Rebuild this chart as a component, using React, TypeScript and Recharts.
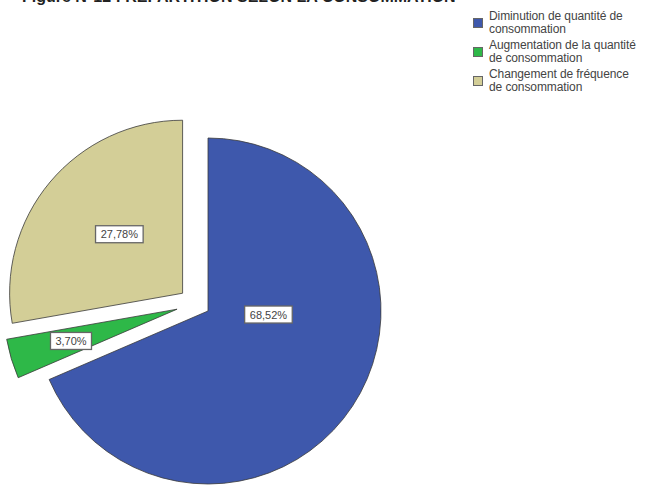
import { PieChart, Pie, Cell, Legend } from "recharts";

const categories = [
  "Diminution de quantité de consommation",
  "Augmentation de la quantité de consommation",
  "Changement de fréquence de consommation",
];
const percentages = [68.52, 3.7, 27.78];
const percentLabels = ["68,52%", "3,70%", "27,78%"];
const exploded = [false, true, true];

const COLORS = ["#3e58ac", "#2eb848", "#d3ce97"];
const RAD = Math.PI / 180;
const CX = 208;
const CY = 311;
const R = 173;
const EXPLODE = 31;
// direction tweak for the pulled-out slices (SPSS doesn't push exactly along the mid angle)
const EXPLODE_SHIFT = [0, -20, 5];
// radial fraction + angle shift for the value boxes, per slice
const LABEL_PLACE = [
  { rf: 0.35, shift: 30 },
  { rf: 0.64, shift: 0 },
  { rf: 0.5, shift: -3 },
];
// words on the first legend line
const LEGEND_BREAK = [4, 4, 3];
const FONT = "Arial, 'Liberation Sans', sans-serif";

// SPSS style: start at 12 o'clock, clockwise
let acc = 0;
const slices = percentages.map((v, i) => {
  const start = 90 - acc * 3.6;
  acc += v;
  const end = 90 - acc * 3.6;
  const mid = (start + end) / 2;
  const off = exploded[i] ? EXPLODE : 0;
  const dir = (mid + EXPLODE_SHIFT[i]) * RAD;
  return {
    name: categories[i],
    value: v,
    start,
    end,
    mid,
    cx: CX + off * Math.cos(dir),
    cy: CY - off * Math.sin(dir),
  };
});

function makeLabel(i: number) {
  return () => {
    const s = slices[i];
    const p = LABEL_PLACE[i];
    const a = (s.mid + p.shift) * RAD;
    const x = s.cx + R * p.rf * Math.cos(a);
    const y = s.cy - R * p.rf * Math.sin(a);
    const txt = percentLabels[i];
    const w = txt.length * 6.6 + 8;
    const h = 17;
    return (
      <g>
        <rect x={x - w / 2} y={y - h / 2} width={w} height={h} fill="#fff" stroke="#666" strokeWidth={1.3} />
        <text x={x} y={y + 4} textAnchor="middle" fontSize={11} fontFamily={FONT} fill="#444">
          {txt}
        </text>
      </g>
    );
  };
}

function LegendBox() {
  return (
    <div style={{ fontFamily: FONT, fontSize: 12, color: "#444", lineHeight: "13px", letterSpacing: -0.1 }}>
      {categories.map((c, i) => {
        const words = c.split(" ");
        return (
          <div key={c} style={{ display: "flex", alignItems: "flex-start", height: 29 }}>
            <div
              style={{
                width: 10,
                height: 10,
                marginTop: 8,
                marginRight: 6,
                flex: "none",
                background: COLORS[i],
                border: "1px solid #666",
                boxSizing: "border-box",
              }}
            />
            <div style={{ whiteSpace: "nowrap" }}>
              {words.slice(0, LEGEND_BREAK[i]).join(" ")}
              <br />
              {words.slice(LEGEND_BREAK[i]).join(" ")}
            </div>
          </div>
        );
      })}
    </div>
  );
}

export default function App() {
  return (
    <div style={{ position: "absolute", left: 0, top: 0, width: 651, height: 487, background: "#fff", overflow: "hidden" }}>
      <div
        style={{
          position: "absolute",
          left: 22,
          top: -12,
          fontFamily: FONT,
          fontWeight: "bold",
          fontSize: 16,
          whiteSpace: "nowrap",
          color: "#222",
        }}
      >
        Figure N°12 : RÉPARTITION SELON LA CONSOMMATION
      </div>
      <PieChart
        width={651}
        height={487}
        margin={{ top: 0, right: 0, bottom: 0, left: 0 }}
        style={{ position: "absolute", left: 0, top: 0 }}
      >
        {slices.map((s, i) => (
          <Pie
            key={s.name}
            data={[s]}
            dataKey="value"
            nameKey="name"
            cx={s.cx}
            cy={s.cy}
            outerRadius={R}
            startAngle={s.start}
            endAngle={s.end}
            stroke="#3a3a3a"
            strokeWidth={0.8}
            label={makeLabel(i)}
            labelLine={false}
            isAnimationActive={false}
          >
            <Cell fill={COLORS[i]} />
          </Pie>
        ))}
        <Legend
          layout="vertical"
          content={() => <LegendBox />}
          wrapperStyle={{ position: "absolute", left: 473, top: 10, width: 178 }}
        />
      </PieChart>
    </div>
  );
}
